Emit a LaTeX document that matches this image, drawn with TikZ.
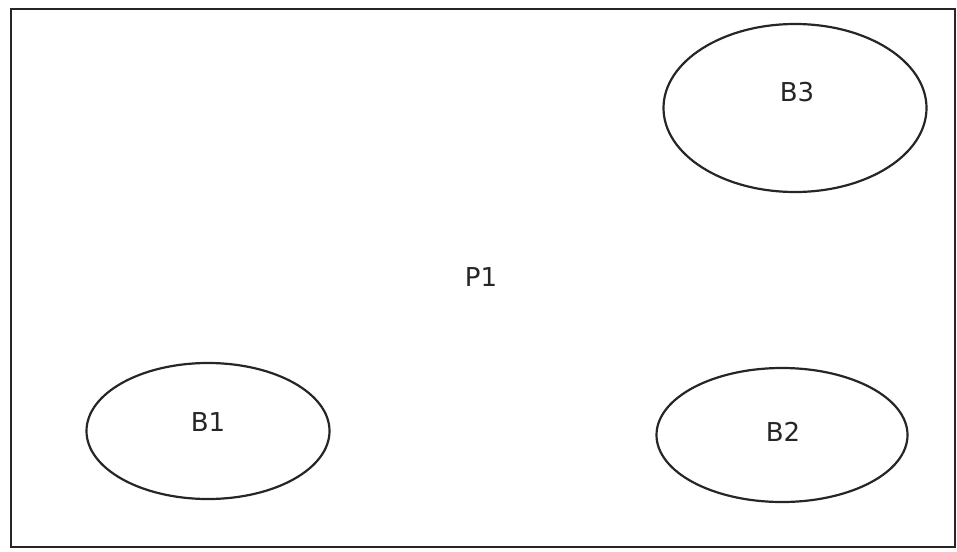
\documentclass[tikz,border=0pt]{standalone}
\usepackage{fontspec}
\setmainfont{DejaVu Sans}
\usetikzlibrary{shapes.geometric}
\begin{document}
\begin{tikzpicture}[x=1pt,y=-1pt,
  outline/.style={draw=black!85,line width=2.2pt},
  label/.style={font=\fontsize{26}{30}\selectfont,text=black!85},
  region/.style={outline,ellipse,inner sep=0pt}]
  \useasboundingbox (0,0) rectangle (957,551);
  % the outer process area
  \draw[outline] (11,9) rectangle (955,547);
  \node[label] (p1) at (481,277) {P1};
  % the three blocks inside it
  \node[region,minimum width=243pt,minimum height=136pt] (b1) at (208,431) {};
  \node[region,minimum width=251pt,minimum height=134pt] (b2) at (782,435) {};
  \node[region,minimum width=263pt,minimum height=168pt] (b3) at (795,108) {};
  \node[label] (b1t) at (208,422) {B1};
  \node[label] (b2t) at (783,432) {B2};
  \node[label] (b3t) at (797,92) {B3};
\end{tikzpicture}
\end{document}
